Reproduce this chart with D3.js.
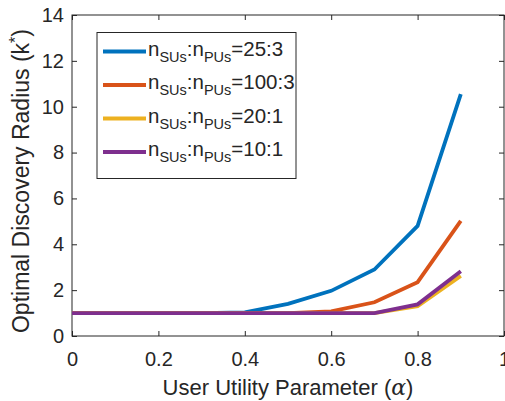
<!DOCTYPE html>
<html>
<head>
<meta charset="utf-8">
<script src="https://cdn.jsdelivr.net/npm/d3@7"></script>
<style>
  body { margin: 0; background: #fff; }
  svg text { font-family: "Liberation Sans", Arial, sans-serif; fill: #262626; }
</style>
</head>
<body>
<div id="chart"></div>
<script>
// data
var alphas = [0, 0.1, 0.2, 0.3, 0.4, 0.5, 0.6, 0.7, 0.8, 0.9];
var ratio25to3 = [1, 1, 1, 1, 1.03, 1.4, 1.97, 2.9, 4.8, 10.55];
var ratio100to3 = [1, 1, 1, 1, 1, 1, 1.07, 1.47, 2.35, 5.02];
var ratio20to1 = [1, 1, 1, 1, 1, 1, 1, 1, 1.3, 2.62];
var ratio10to1 = [1, 1, 1, 1, 1, 1, 1, 1, 1.38, 2.82];
var seriesNames = ["25:3", "100:3", "20:1", "10:1"];
var seriesColors = ["#0072BD", "#D95319", "#EDB120", "#7E2F8E"];
var xTicks = [0, 0.2, 0.4, 0.6, 0.8, 1];
var yTicks = [0, 2, 4, 6, 8, 10, 12, 14];

var width = 505,
    height = 401,
    margin = { top: 15, right: 1, bottom: 65, left: 72 };

var svg = d3.select("#chart")
    .append("svg")
    .attr("width", width)
    .attr("height", height);

var x = d3.scaleLinear().domain([0, 1]).range([margin.left, width - margin.right]);
var y = d3.scaleLinear().domain([0, 14]).range([height - margin.bottom, margin.top]);

// axes, MATLAB style: ticks pointing in, on all four sides
svg.append("g")
    .attr("transform", "translate(0," + y(0) + ")")
    .call(d3.axisBottom(x).tickValues(xTicks).tickSizeInner(-5).tickSizeOuter(0).tickPadding(16)
        .tickFormat(function (d) { return d === 0 || d === 1 ? d : d3.format(".1f")(d); }))
    .call(function (g) {
        g.selectAll("text").style("font-size", "20px").style("fill", "#262626");
        g.select(".domain").remove();
    });
svg.append("g")
    .attr("transform", "translate(" + x(0) + ",0)")
    .call(d3.axisLeft(y).tickValues(yTicks).tickSizeInner(-5).tickSizeOuter(0).tickPadding(8))
    .call(function (g) {
        g.selectAll("text").style("font-size", "20px").style("fill", "#262626");
        g.select(".domain").remove();
    });
svg.append("g")
    .attr("transform", "translate(0," + y(14) + ")")
    .call(d3.axisTop(x).tickValues(xTicks).tickSizeInner(-5).tickSizeOuter(0).tickFormat(""))
    .call(function (g) { g.select(".domain").remove(); });
svg.append("g")
    .attr("transform", "translate(" + x(1) + ",0)")
    .call(d3.axisRight(y).tickValues(yTicks).tickSizeInner(-5).tickSizeOuter(0).tickFormat(""))
    .call(function (g) { g.select(".domain").remove(); });

svg.selectAll(".tick line").attr("stroke", "#262626");

svg.append("rect")
    .attr("x", x(0))
    .attr("y", y(14))
    .attr("width", x(1) - x(0))
    .attr("height", y(0) - y(14))
    .attr("fill", "none")
    .attr("stroke", "#262626")
    .attr("stroke-width", 1);

// lines
var allSeries = [ratio25to3, ratio100to3, ratio20to1, ratio10to1];
var line = d3.line()
    .x(function (d, i) { return x(alphas[i]); })
    .y(function (d) { return y(d); });

[0, 1, 2, 3].forEach(function (k) {
    svg.append("path")
        .datum(allSeries[k])
        .attr("d", line)
        .attr("fill", "none")
        .attr("stroke", seriesColors[k])
        .attr("stroke-width", 3.8);
});

// legend
var lg = svg.append("g");
lg.append("rect")
    .attr("x", 97)
    .attr("y", 32.5)
    .attr("width", 199)
    .attr("height", 146)
    .attr("fill", "#fff")
    .attr("stroke", "#262626")
    .attr("stroke-width", 1);

seriesNames.forEach(function (name, i) {
    var yy = 51.5 + i * 33.5;
    lg.append("line")
        .attr("x1", 103).attr("x2", 146)
        .attr("y1", yy).attr("y2", yy)
        .attr("stroke", seriesColors[i])
        .attr("stroke-width", 3.8);
    var t = lg.append("text")
        .attr("x", 148)
        .attr("y", yy + 4)
        .style("font-size", "20.5px");
    t.append("tspan").text("n");
    t.append("tspan").attr("dy", 6).style("font-size", "14.5px").text("SUs");
    t.append("tspan").attr("dy", -6).text(":n");
    t.append("tspan").attr("dy", 6).style("font-size", "14.5px").text("PUs");
    t.append("tspan").attr("dy", -6).text("=" + name);
});

// axis titles
var xt = svg.append("text")
    .attr("x", (x(0) + x(1)) / 2)
    .attr("y", 395)
    .attr("text-anchor", "middle")
    .style("font-size", "22px");
xt.append("tspan").text("User Utility Parameter (");
xt.append("tspan").style("font-family", "'DejaVu Serif', serif").style("font-style", "italic").text("α");
xt.append("tspan").text(")");

var yt = svg.append("text")
    .attr("transform", "translate(29,181) rotate(-90)")
    .attr("text-anchor", "middle")
    .style("font-size", "23px");
yt.append("tspan").text("Optimal Discovery Radius (k");
yt.append("tspan").attr("dy", -8).style("font-size", "16px").text("*");
yt.append("tspan").attr("dy", 8).text(")");
</script>
</body>
</html>
